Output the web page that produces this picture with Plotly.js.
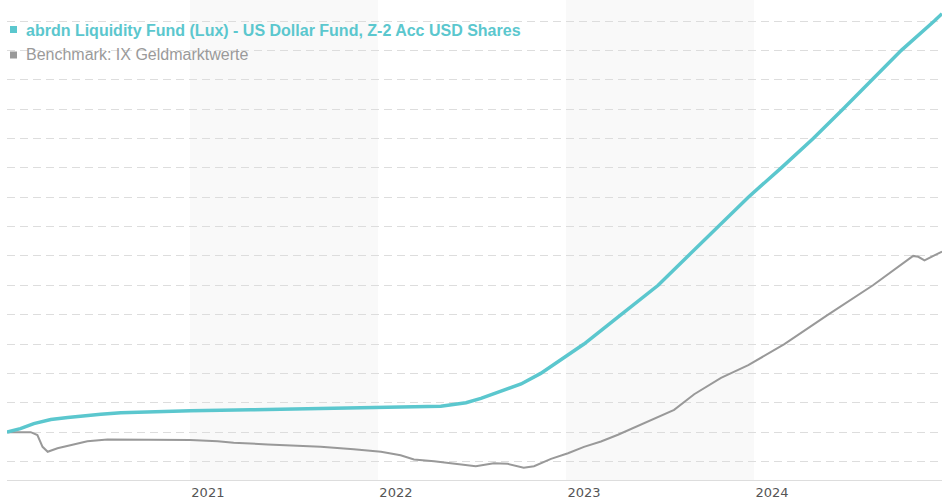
<!DOCTYPE html>
<html><head><meta charset="utf-8">
<script src="https://cdn.plot.ly/plotly-3.0.1.min.js"></script>
<style>html,body{margin:0;padding:0;background:#fff;}#chart{width:942px;height:500px;}</style>
</head><body><div id="chart"></div>
<script>
const seriesNames = ['abrdn Liquidity Fund (Lux) - US Dollar Fund, Z-2 Acc USD Shares', 'Benchmark: IX Geldmarktwerte'];
const seriesColors = ['#5bc7ce', '#999999'];

const fundDates = ['2020-01-12','2020-02-07','2020-03-04','2020-04-06','2020-05-09','2020-06-09','2020-07-12','2020-08-20','2020-10-17',
  '2021-01-02','2021-04-29','2021-09-12','2022-01-07','2022-03-26','2022-05-03','2022-06-21','2022-07-20','2022-08-28','2022-10-06',
  '2022-11-13','2022-12-22','2023-02-05','2023-04-18','2023-06-29','2023-08-26','2023-10-23','2023-12-21','2024-02-23','2024-04-25',
  '2024-06-22','2024-08-18','2024-10-13','2024-12-16','2024-12-31'];
const fundValues = [0, 0.12, 0.29, 0.43, 0.50, 0.56, 0.61, 0.66, 0.69,
  0.73, 0.76, 0.80, 0.82, 0.84, 0.88, 1.00, 1.15, 1.40, 1.64,
  2.00, 2.48, 3.00, 4.00, 5.00, 6.00, 7.00, 8.00, 9.00, 10.00,
  11.00, 12.00, 13.00, 14.00, 14.25];

const benchDates = ['2020-01-12','2020-02-27','2020-03-11','2020-03-21','2020-03-31','2020-04-19','2020-05-14','2020-06-16','2020-07-25',
  '2020-10-17','2021-01-02','2021-02-24','2021-03-27','2021-06-01','2021-08-04','2021-09-12','2021-11-15','2022-01-07','2022-02-14',
  '2022-03-12','2022-04-20','2022-05-23','2022-06-25','2022-07-10','2022-08-14','2022-09-10','2022-10-11','2022-10-31','2022-12-03',
  '2023-01-05','2023-02-05','2023-03-10','2023-04-12','2023-05-27','2023-07-30','2023-09-07','2023-10-29','2023-12-21','2024-02-29',
  '2024-05-24','2024-08-19','2024-11-05','2024-11-15','2024-11-27','2024-12-31'];
const benchValues = [0, 0.0, -0.10, -0.50, -0.67, -0.55, -0.45, -0.31, -0.25,
  -0.25, -0.27, -0.31, -0.36, -0.42, -0.47, -0.50, -0.58, -0.67, -0.79,
  -0.93, -0.99, -1.05, -1.13, -1.16, -1.06, -1.08, -1.21, -1.16, -0.91,
  -0.72, -0.50, -0.32, -0.09, 0.26, 0.76, 1.29, 1.85, 2.28, 3.00,
  4.00, 5.00, 6.00, 5.97, 5.85, 6.15];

const tickYears = ['2021', '2022', '2023', '2024'];
const shadedYears = ['2021', '2023'];

const traces = [
  {x: benchDates, y: benchValues, type: 'scatter', mode: 'lines', name: seriesNames[1],
   line: {color: seriesColors[1], width: 2}, hoverinfo: 'skip'},
  {x: fundDates, y: fundValues, type: 'scatter', mode: 'lines', name: seriesNames[0],
   line: {color: seriesColors[0], width: 3.5}, hoverinfo: 'skip'}
];

const shapes = shadedYears.map(y => ({
  type: 'rect', xref: 'x', yref: 'paper', layer: 'below',
  x0: y + '-01-01', x1: (parseInt(y) + 1) + '-01-01', y0: 0, y1: 1,
  fillcolor: '#f9f9f9', line: {width: 0}
}));
seriesNames.forEach((n, i) => {
  shapes.push({type: 'rect', xref: 'paper', yref: 'paper', xsizemode: 'pixel', ysizemode: 'pixel',
    xanchor: 0, yanchor: 1, x0: 3, x1: 10, y0: -26 - i * 25.5, y1: -33 - i * 25.5,
    fillcolor: seriesColors[i], line: {width: 0}});
});

const annotations = seriesNames.map((n, i) => ({
  xref: 'paper', yref: 'paper', x: 0.0182, y: 1 - (30 + i * 24.5) / 480,
  xanchor: 'left', yanchor: 'middle', showarrow: false,
  text: i === 0 ? '<b>' + n + '</b>' : n,
  font: {family: 'Liberation Sans, Arial, sans-serif', size: 16, color: i === 0 ? seriesColors[0] : '#9a9a9a'}
}));

const layout = {
  width: 942, height: 500,
  margin: {l: 7, r: 0, t: 0, b: 20},
  paper_bgcolor: '#ffffff', plot_bgcolor: '#ffffff',
  showlegend: false,
  xaxis: {
    type: 'date', range: ['2020-01-12', '2024-12-31'],
    tickvals: tickYears.map(y => y + '-01-01'), ticktext: tickYears,
    ticklabelshift: 18, ticks: '', showgrid: false, zeroline: false,
    showline: true, linecolor: '#dddddd', linewidth: 1,
    tickfont: {family: 'DejaVu Sans, Verdana, sans-serif', size: 13, color: '#555555'}
  },
  yaxis: {
    range: [-1.63, 14.715], tick0: 0, dtick: 1,
    showticklabels: false, ticks: '', zeroline: false, showline: false,
    showgrid: true, gridcolor: '#dddddd', gridwidth: 1, griddash: '8px,5px'
  },
  shapes: shapes,
  annotations: annotations
};

Plotly.newPlot('chart', traces, layout, {displayModeBar: false, staticPlot: true});
</script>
</body></html>
